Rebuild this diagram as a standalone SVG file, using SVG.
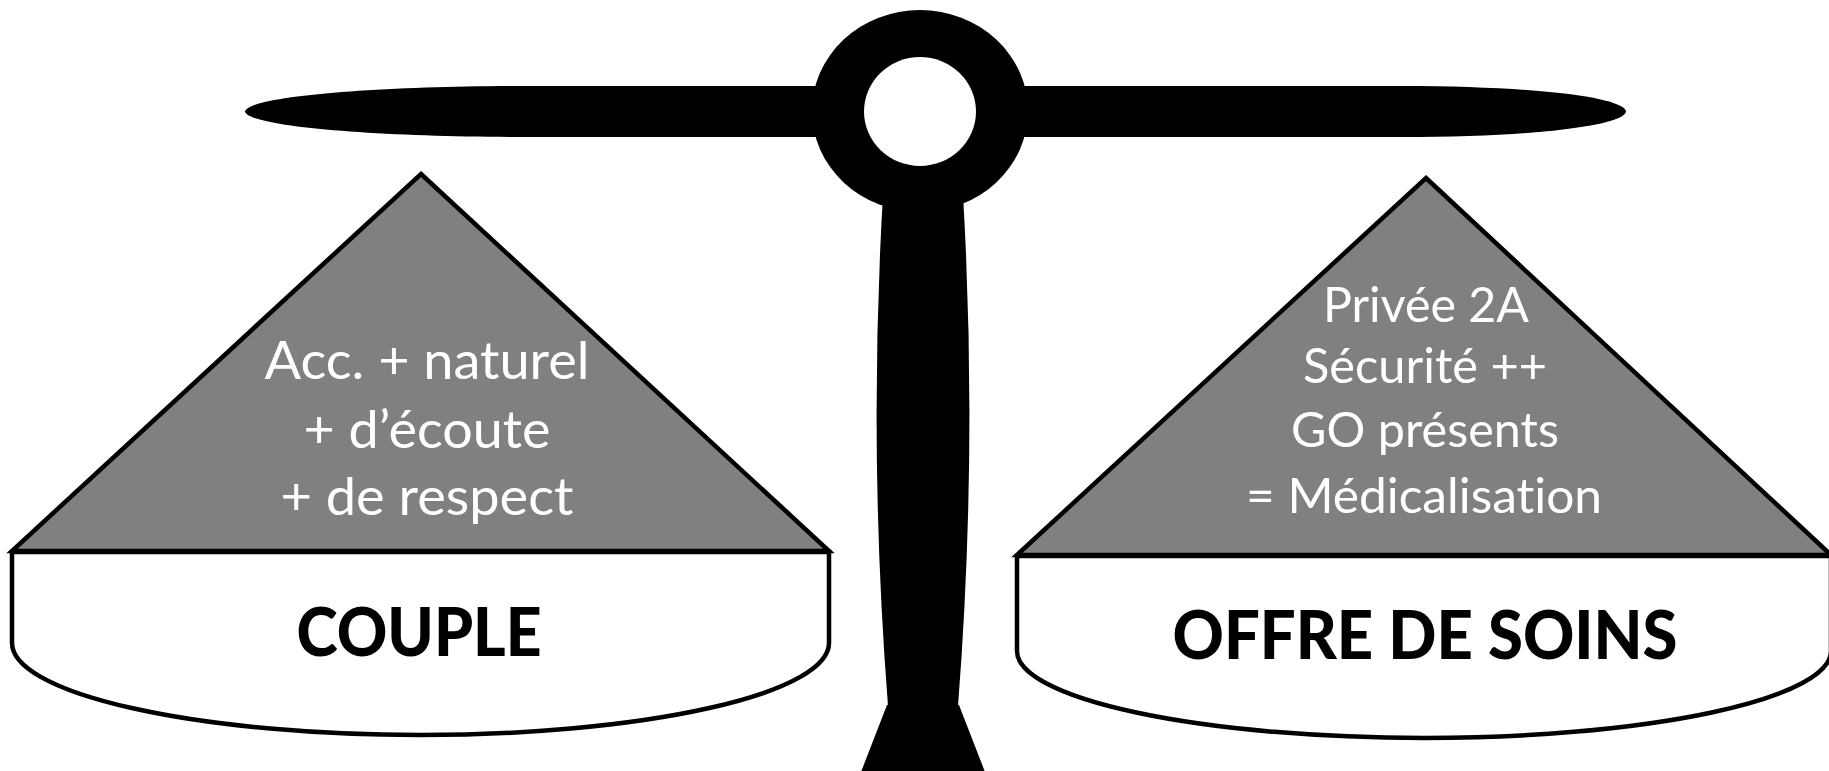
<svg xmlns="http://www.w3.org/2000/svg" width="1829" height="771" viewBox="0 0 1829 771">
<style>
.blk{fill:#000;stroke:none}
.tri{fill:#808080;stroke:#000;stroke-width:4.5;stroke-linejoin:miter}
.bowl{fill:#fff;stroke:#000;stroke-width:4.5}
.lt{font-family:Lato,"Liberation Sans",sans-serif;fill:#fff;text-anchor:middle;font-variant-ligatures:none;font-feature-settings:"liga" 0}
.bt{font-family:Lato,"Liberation Sans",sans-serif;font-weight:900;fill:#000;text-anchor:middle;font-variant-ligatures:none}
</style>
<rect width="1829" height="771" fill="#fff"/>
<g id="scale">
<path class="blk" d="M245,111.5 C248,96 380,86 520,86 L1400,86 C1540,86 1624,98 1626,111.5 C1624,125 1540,137 1400,137 L520,137 C380,137 248,127 245,111.5 Z"/>
<ellipse class="blk" cx="920" cy="111" rx="108" ry="101"/>
<ellipse fill="#fff" cx="920" cy="111.5" rx="56" ry="54.5"/>
<path class="blk" d="M883,195 Q868,450 888,706 L958,706 Q978,450 963,195 Z"/>
<polygon class="blk" points="887,705 959,705 985,772 861,772"/>
</g>
<g id="left-pan">
<path class="bowl" d="M12,552 L829,552 L829,643 A408.5,92 0 0,1 12,643 Z"/>
<polygon class="tri" points="421,174 829,551 12,551"/>
<text class="lt" font-size="52" x="427" y="379" textLength="325" lengthAdjust="spacingAndGlyphs">Acc. + naturel</text>
<text class="lt" font-size="52" x="427" y="448" textLength="247" lengthAdjust="spacingAndGlyphs">+ d’écoute</text>
<text class="lt" font-size="52" x="427" y="515" textLength="293" lengthAdjust="spacingAndGlyphs">+ de respect</text>
<text class="bt" font-size="66" x="419" y="656" textLength="245" lengthAdjust="spacingAndGlyphs">COUPLE</text>
</g>
<g id="right-pan">
<path class="bowl" d="M1017,556 L1831,556 L1831,651 A407,87 0 0,1 1017,651 Z"/>
<polygon class="tri" points="1426,178 1831,555 1017,555"/>
<text class="lt" font-size="48" x="1426" y="322" textLength="206" lengthAdjust="spacingAndGlyphs">Privée 2A</text>
<text class="lt" font-size="48" x="1425" y="383" textLength="244" lengthAdjust="spacingAndGlyphs">Sécurité ++</text>
<text class="lt" font-size="48" x="1425" y="447" textLength="268" lengthAdjust="spacingAndGlyphs">GO présents</text>
<text class="lt" font-size="48" x="1424" y="513" textLength="356" lengthAdjust="spacingAndGlyphs">= Médicalisation</text>
<text class="bt" font-size="66" x="1425" y="659" textLength="505" lengthAdjust="spacingAndGlyphs">OFFRE DE SOINS</text>
</g>
<g id="connectors"></g>
</svg>
